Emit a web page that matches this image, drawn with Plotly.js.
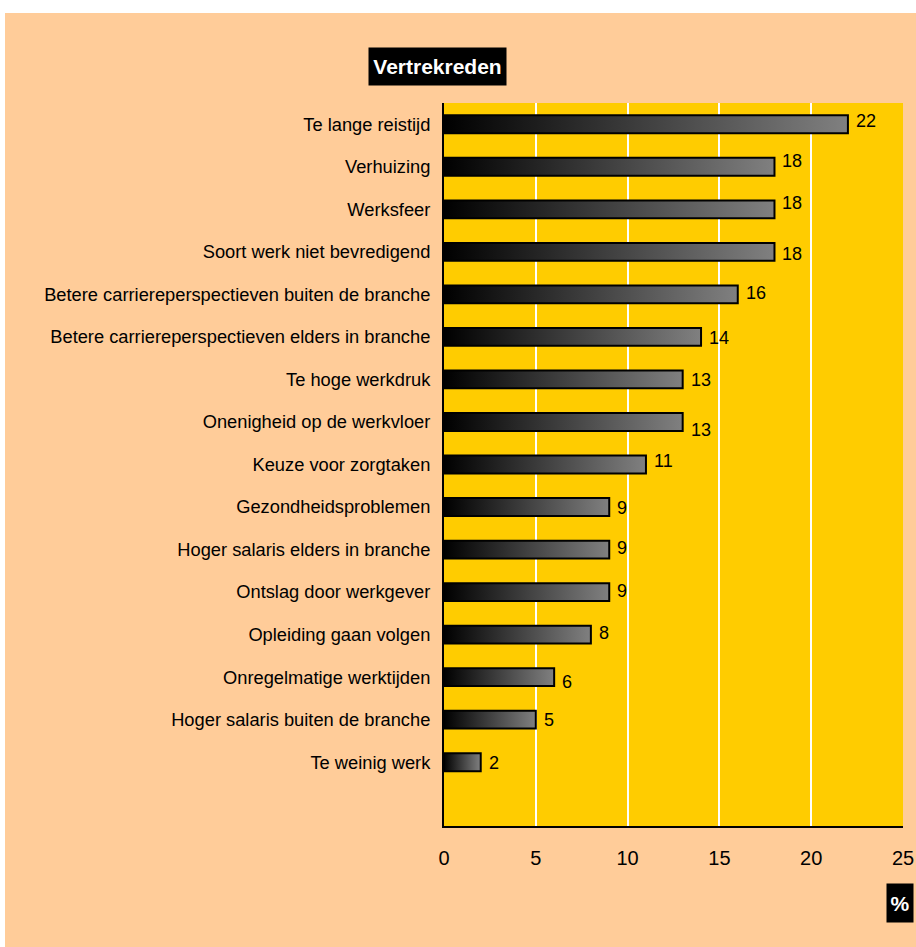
<!DOCTYPE html>
<html>
<head>
<meta charset="utf-8">
<script src="https://cdn.plot.ly/plotly-3.0.1.min.js"></script>
<style>
  html, body { margin: 0; padding: 0; background: #ffffff; }
  #chart { position: absolute; left: 5px; top: 13px; width: 911px; height: 934px; }
</style>
</head>
<body>
<div id="chart"></div>
<script>
// Data
const categories = [
  'Te lange reistijd',
  'Verhuizing',
  'Werksfeer',
  'Soort werk niet bevredigend',
  'Betere carriereperspectieven buiten de branche',
  'Betere carriereperspectieven elders in branche',
  'Te hoge werkdruk',
  'Onenigheid op de werkvloer',
  'Keuze voor zorgtaken',
  'Gezondheidsproblemen',
  'Hoger salaris elders in branche',
  'Ontslag door werkgever',
  'Opleiding gaan volgen',
  'Onregelmatige werktijden',
  'Hoger salaris buiten de branche',
  'Te weinig werk'
];
const values = [22, 18, 18, 18, 16, 14, 13, 13, 11, 9, 9, 9, 8, 6, 5, 2];
const xTickValues = [0, 5, 10, 15, 20, 25];
const chartTitle = 'Vertrekreden';
const unitLabel = '%';

// Style: small vertical offsets of the value labels (pixels)
const labelShift = [3, 6, 6, -2, 1, -1, -1, -8, 4, -1, 2, 1, 2, -5, 0, -1];

const FONT = 'Arial, "Liberation Sans", Helvetica, sans-serif';

const trace = {
  type: 'bar',
  orientation: 'h',
  x: values,
  y: categories,
  width: 0.42,
  marker: { color: '#404040', line: { color: '#000000', width: 2 } },
  hoverinfo: 'x+y'
};

const valueAnnotations = values.map((v, i) => ({
  x: v, y: categories[i], xref: 'x', yref: 'y',
  text: String(v), showarrow: false,
  xanchor: 'left', yanchor: 'middle',
  xshift: 6, yshift: labelShift[i],
  font: { family: FONT, size: 18, color: '#000000' }
}));

const layout = {
  width: 911, height: 934,
  paper_bgcolor: '#FFCC99',
  plot_bgcolor: '#FFCC00',
  margin: { l: 439, r: 13, t: 90, b: 121, pad: 0 },
  showlegend: false,
  font: { family: FONT, size: 18, color: '#000000' },
  xaxis: {
    range: [0, 25],
    tickvals: xTickValues,
    showgrid: true, gridcolor: '#ffffff', gridwidth: 2,
    zeroline: false,
    showline: true, linecolor: '#000000', linewidth: 2,
    ticks: '', ticklabelstandoff: 13,
    tickfont: { family: FONT, size: 20, color: '#000000' },
    fixedrange: true
  },
  yaxis: {
    type: 'category',
    categoryorder: 'array', categoryarray: categories,
    range: [16.5, -0.5], autorange: false,
    showgrid: false, zeroline: false,
    showline: true, linecolor: '#000000', linewidth: 2,
    ticks: '', ticklabelstandoff: 8,
    tickfont: { family: FONT, size: 18.3, color: '#000000' },
    fixedrange: true
  },
  annotations: valueAnnotations.concat([
    {
      xref: 'paper', yref: 'paper', x: -0.015, y: 1.051,
      xanchor: 'center', yanchor: 'middle',
      text: '<b>' + chartTitle + '</b>', showarrow: false,
      bgcolor: '#000000', borderpad: 3, width: 131, height: 31,
      font: { family: FONT, size: 21, color: '#ffffff' }
    },
    {
      xref: 'paper', yref: 'paper', x: 0.9935, y: -0.1065,
      xanchor: 'center', yanchor: 'middle',
      text: '<b>' + unitLabel + '</b>', showarrow: false,
      bgcolor: '#000000', borderpad: 2, width: 22, height: 34,
      font: { family: FONT, size: 21, color: '#ffffff' }
    }
  ])
};

Plotly.newPlot('chart', [trace], layout, { displayModeBar: false, staticPlot: true }).then(gd => {
  const svgNS = 'http://www.w3.org/2000/svg';
  const svg = gd.querySelector('svg.main-svg');
  let defs = svg.querySelector('defs');
  if (!defs) { defs = document.createElementNS(svgNS, 'defs'); svg.insertBefore(defs, svg.firstChild); }
  const grad = document.createElementNS(svgNS, 'linearGradient');
  grad.setAttribute('id', 'barGrad');
  grad.setAttribute('x1', '0'); grad.setAttribute('y1', '0');
  grad.setAttribute('x2', '1'); grad.setAttribute('y2', '0');
  [['0%', '#000000'], ['100%', '#808080']].forEach(([o, c]) => {
    const s = document.createElementNS(svgNS, 'stop');
    s.setAttribute('offset', o); s.setAttribute('stop-color', c);
    grad.appendChild(s);
  });
  defs.appendChild(grad);
  gd.querySelectorAll('.bars .point path').forEach(p => { p.style.fill = 'url(#barGrad)'; });
});
</script>
</body>
</html>
